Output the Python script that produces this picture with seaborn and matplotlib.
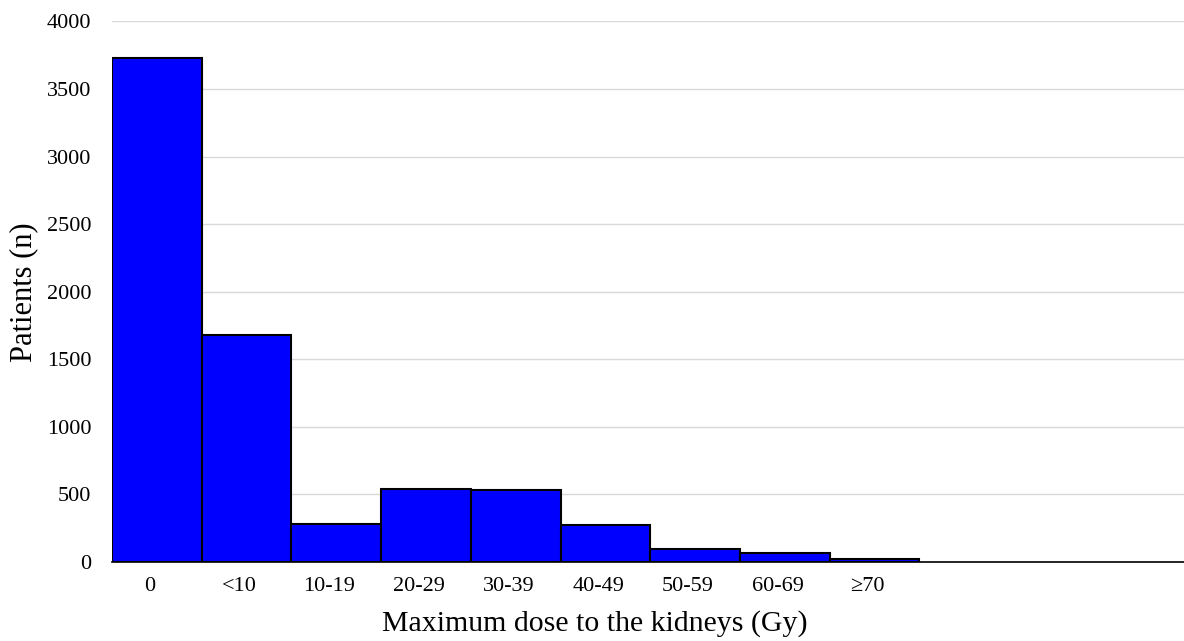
import numpy as np
import pandas as pd
import seaborn as sns
import matplotlib.pyplot as plt
import matplotlib.transforms as mtransforms

sns.set_style("white")
plt.rcParams['font.family'] = ['Liberation Serif', 'DejaVu Serif']
plt.rcParams['text.color'] = 'black'
plt.rcParams['axes.labelcolor'] = 'black'
plt.rcParams['xtick.color'] = 'black'
plt.rcParams['ytick.color'] = 'black'

dose_groups = ["0", "<10", "10-19", "20-29", "30-39", "40-49", "50-59", "60-69", "\u226570"]
patients = [3730, 1680, 280, 538, 530, 272, 99, 69, 22]

df = pd.DataFrame({"dose": dose_groups, "patients": patients})

fig = plt.figure(figsize=(11.84, 6.41), dpi=100)
ax = fig.add_axes([0.0946, 0.1232, 0.9054, 0.8433])

sns.barplot(data=df, x="dose", y="patients", order=dose_groups, color="#0000FF",
            saturation=1, width=1.0, edgecolor="black", linewidth=1.5, ax=ax, zorder=3)

ax.set_xlim(-0.5, 11.45)
ax.set_ylim(0, 4000)
ax.set_yticks(np.arange(0, 4001, 500))
ax.yaxis.grid(True, color="#d9d9d9", linewidth=1, zorder=0)
ax.xaxis.grid(False)

for s in ["left", "right", "top"]:
    ax.spines[s].set_visible(False)
ax.spines["bottom"].set_color("black")
ax.spines["bottom"].set_linewidth(1.2)
ax.spines["bottom"].set_zorder(4)

ax.tick_params(axis="y", length=0, pad=15, labelsize=16)
ax.tick_params(axis="x", length=0, pad=11, labelsize=16)

# category labels sit a little left of the bar centres
shift = mtransforms.ScaledTranslation(-7 / 100, 0, fig.dpi_scale_trans)
for lbl in ax.get_xticklabels():
    lbl.set_transform(lbl.get_transform() + shift)

ax.set_xlabel("Maximum dose to the kidneys (Gy)", fontsize=21.5)
ax.xaxis.set_label_coords(0.45, -0.089)
ax.set_ylabel("Patients (n)", fontsize=22)
ax.yaxis.set_label_coords(-0.069, 0.5)

fig.savefig("out.png", dpi=100)
